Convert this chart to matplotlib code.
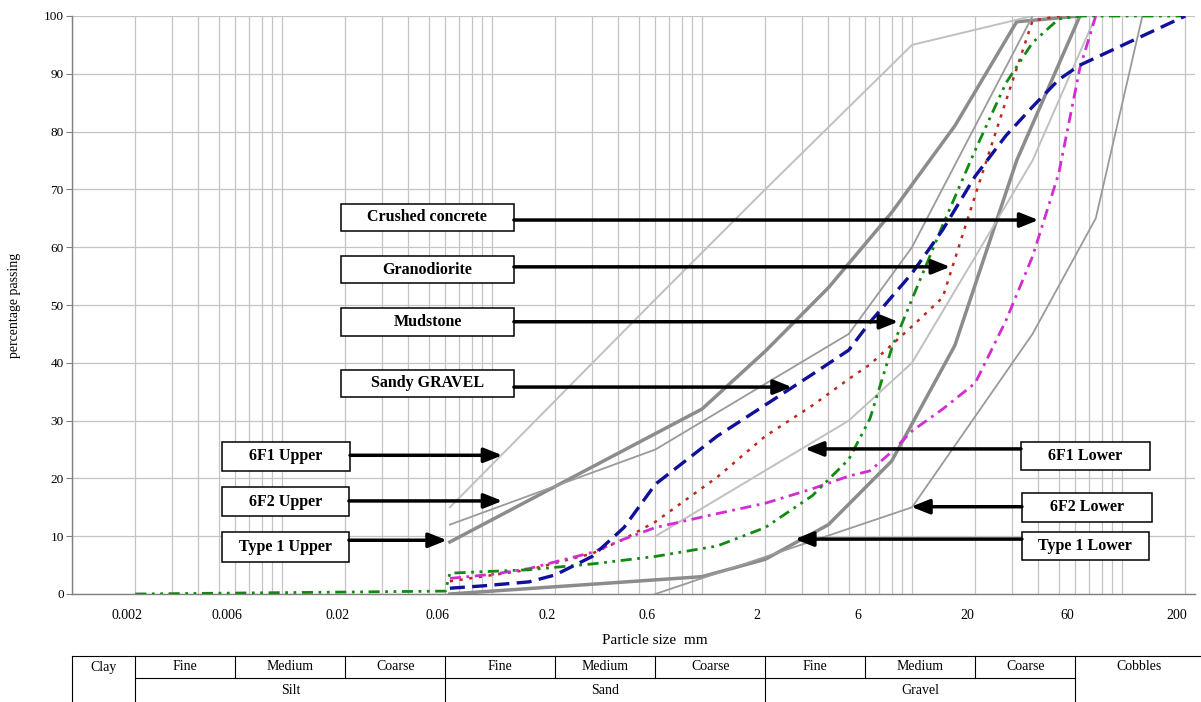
import matplotlib
matplotlib.use("Agg")
import matplotlib.pyplot as plt
from matplotlib.patches import Rectangle
from matplotlib.lines import Line2D
from matplotlib.ticker import FixedLocator, LogLocator, NullFormatter
from matplotlib.transforms import blended_transform_factory, ScaledTranslation

plt.rcParams['font.family'] = ['Liberation Serif', 'DejaVu Serif']

# ---- grading envelopes (sieve size in mm, percentage passing) ----
type1_upper_x = [0.063, 1, 2, 4, 8, 16, 31.5, 63]
type1_upper_y = [9, 32, 42, 53, 66, 81, 99, 100]
type1_lower_x = [0.063, 1, 2, 4, 8, 16, 31.5, 63]
type1_lower_y = [0, 3, 6, 12, 23, 43, 75, 100]

f6f1_upper_x = [0.063, 0.6, 2, 10, 37.5]
f6f1_upper_y = [15, 51, 70, 95, 100]
f6f1_lower_x = [0.6, 5, 10, 37.5, 75]
f6f1_lower_y = [10, 30, 40, 75, 100]

f6f2_upper_x = [0.063, 0.6, 5, 10, 37.5]
f6f2_upper_y = [12, 25, 45, 60, 100]
f6f2_lower_x = [0.6, 10, 37.5, 75, 125]
f6f2_lower_y = [0, 15, 45, 65, 100]

# ---- tested materials ----
sandy_gravel_x = [0.063, 0.09, 0.15, 0.2, 0.3, 0.425, 0.6, 1.18, 2, 3.35, 5,
                  6.3, 10, 14, 20, 28, 37.5, 50, 63, 200]
sandy_gravel_y = [1, 1.4, 2.1, 3.3, 6.5, 11.5, 19, 27.3, 32.7, 38, 42.2,
                  47, 55.5, 63, 72.3, 79.3, 84.3, 89, 91.5, 100]

granodiorite_x = [0.063, 0.15, 0.3, 0.425, 0.6, 1.18, 2, 3.35, 5, 6.3, 10,
                  14, 20, 28, 37.5, 50, 63]
granodiorite_y = [2.2, 4.2, 7, 9.5, 12.5, 20.2, 27.3, 32.6, 37.2, 39.7, 46.3,
                  51.3, 69, 85.3, 99.2, 100, 100]

crushed_concrete_x = [0.063, 0.1, 0.15, 0.212, 0.3, 0.425, 0.6, 1.18, 2, 3.35,
                      5, 6.3, 8, 10, 14, 20, 28, 37.5, 50, 63, 75]
crushed_concrete_y = [2.7, 3.4, 4.4, 5.8, 7.2, 9.5, 11.5, 13.9, 15.7, 18.2,
                      20.4, 21.3, 24.6, 28.2, 32, 36.5, 47.3, 58.4, 72.8, 91, 100]

mudstone_x = [0.002, 0.06, 0.063, 0.15, 0.3, 0.6, 1.18, 2, 3.35, 5, 6.3, 8,
              10, 14, 20, 28, 37.5, 50, 63, 200]
mudstone_y = [0, 0.5, 3.6, 4.2, 5.2, 6.5, 8.3, 11.5, 17, 23.3, 30.3, 42.5,
              51, 63.8, 76.8, 88.4, 95.4, 99.5, 100, 100]

# ---- axis ticks ----
x_ticks = [0.002, 0.006, 0.02, 0.06, 0.2, 0.6, 2, 6, 20, 60, 200]
x_tick_labels = ["0.002", "0.006", "0.02", "0.06", "0.2", "0.6", "2", "6",
                 "20", "60", "200"]
y_ticks = list(range(0, 101, 10))

# ---- callouts: label, arrow tip (mm, %) ----
callout_labels = ["Crushed concrete", "Granodiorite", "Mudstone", "Sandy GRAVEL",
                  "6F1 Upper", "6F2 Upper", "Type 1 Upper",
                  "6F1 Lower", "6F2 Lower", "Type 1 Lower"]
callout_tip_x = [40, 15.2, 8.6, 2.68, 0.112, 0.112, 0.061, 3.09, 9.9, 2.77]
callout_tip_y = [64.7, 56.6, 47.1, 35.8, 24.0, 16.1, 9.3, 25.1, 15.1, 9.5]

# ---- soil classification bands ----
band_edges = [0.001, 0.002, 0.006, 0.02, 0.06, 0.2, 0.6, 2, 6, 20, 60]
sub_names = ["Fine", "Medium", "Coarse"] * 3
main_names = ["Silt", "Sand", "Gravel"]
main_edges = [0.002, 0.06, 2, 60]

W, H = 1201, 702
fig = plt.figure(figsize=(W / 100, H / 100), dpi=100)
ax = fig.add_axes([72 / W, (H - 594) / H, 1123 / W, 578 / H])
ax.set_xscale('log')
ax.set_xlim(0.001, 222.6)
ax.set_ylim(0, 100)

ax.xaxis.set_major_locator(FixedLocator(x_ticks))
ax.set_xticklabels(x_tick_labels)
ax.xaxis.set_minor_locator(LogLocator(base=10, subs=[1, 2, 3, 4, 5, 6, 7, 8, 9], numticks=50))
ax.xaxis.set_minor_formatter(NullFormatter())
ax.set_yticks(y_ticks)

grid_c = '#c4c4c4'
ax.grid(True, which='both', axis='x', color=grid_c, lw=0.9)
ax.grid(True, which='major', axis='y', color=grid_c, lw=0.9)
ax.set_axisbelow(True)

ax.tick_params(axis='x', which='both', length=0, labelsize=10, pad=11)
ax.tick_params(axis='y', length=4, color='#808080', labelsize=9.5, pad=2)
for lbl in ax.get_xticklabels():
    lbl.set_transform(lbl.get_transform() + ScaledTranslation(-0.08, 0, fig.dpi_scale_trans))

for side in ('top', 'right'):
    ax.spines[side].set_visible(False)
for side in ('left', 'bottom'):
    ax.spines[side].set_color('#808080')
    ax.spines[side].set_linewidth(1.0)

# envelopes
ax.plot(type1_upper_x, type1_upper_y, color='#8c8c8c', lw=2.5, zorder=2)
ax.plot(type1_lower_x, type1_lower_y, color='#8c8c8c', lw=2.5, zorder=2)
ax.plot(f6f1_upper_x, f6f1_upper_y, color='#c0c0c0', lw=1.4, zorder=2)
ax.plot(f6f1_lower_x, f6f1_lower_y, color='#c0c0c0', lw=1.4, zorder=2)
ax.plot(f6f2_upper_x, f6f2_upper_y, color='#9a9a9a', lw=1.3, zorder=2)
ax.plot(f6f2_lower_x, f6f2_lower_y, color='#9a9a9a', lw=1.3, zorder=2)

# materials
ax.plot(granodiorite_x, granodiorite_y, color='#c0281e', lw=1.8,
        ls=(0, (1.3, 2.6)), zorder=3)
ax.plot(crushed_concrete_x, crushed_concrete_y, color='#d22dd2', lw=2.0,
        ls=(0, (4, 2, 1, 2)), zorder=3)
ax.plot(mudstone_x, mudstone_y, color='#128a12', lw=2.0,
        ls=(0, (4, 2, 1, 2, 1, 2)), zorder=3)
ax.plot(sandy_gravel_x, sandy_gravel_y, color='#10109a', lw=2.4,
        ls=(0, (4.5, 2.2)), zorder=3)

# callout boxes (axes fractions: left, centre y, width, height)
box_layout = [
    (0.2395, 0.6514, 0.154, 0.047),
    (0.2395, 0.5614, 0.154, 0.047),
    (0.2395, 0.4706, 0.154, 0.048),
    (0.2395, 0.3642, 0.154, 0.047),
    (0.1336, 0.2379, 0.114, 0.050),
    (0.1336, 0.1600, 0.113, 0.050),
    (0.1336, 0.0813, 0.113, 0.052),
    (0.8450, 0.2388, 0.115, 0.048),
    (0.8459, 0.1497, 0.116, 0.050),
    (0.8459, 0.0830, 0.113, 0.048),
]
arrow_tf = blended_transform_factory(ax.transAxes, ax.transData)
for label, tx, ty, (bx, by, bw, bh) in zip(callout_labels, callout_tip_x,
                                           callout_tip_y, box_layout):
    ax.add_patch(Rectangle((bx, by - bh / 2), bw, bh, transform=ax.transAxes,
                           facecolor='white', edgecolor='black', lw=1.1,
                           zorder=6, clip_on=False))
    ax.text(bx + bw / 2, by, label, transform=ax.transAxes, ha='center',
            va='center', fontsize=11.5, fontweight='bold', zorder=7)
    start_x = bx + bw if bx < 0.5 else bx
    ax.annotate('', xy=(tx, ty), xycoords='data', xytext=(start_x, ty),
                textcoords=arrow_tf,
                arrowprops=dict(arrowstyle='-|>,head_length=0.55,head_width=0.22',
                                mutation_scale=20, color='black', lw=2.5,
                                shrinkA=0, shrinkB=0),
                zorder=8)

# axis titles
fig.text(655 / W, (H - 641) / H, "Particle size  mm", ha='center', va='center',
         fontsize=11)
fig.text(15 / W, 1 - 305 / H, "percentage passing", ha='center', va='center',
         rotation=90, fontsize=10)

# classification table below the axis
bt = blended_transform_factory(ax.transData, fig.transFigure)
y_top, y_mid, y_bot = (H - 656) / H, (H - 678) / H, 0.0
right_x = 240
lc = 'black'
lw_t = 0.8
fig.add_artist(Line2D([band_edges[0], right_x], [y_top, y_top], transform=bt, color=lc, lw=lw_t))
fig.add_artist(Line2D([main_edges[0], main_edges[-1]], [y_mid, y_mid], transform=bt, color=lc, lw=lw_t))
for e in band_edges:
    y0 = y_bot if (e == band_edges[0] or e in main_edges) else y_mid
    fig.add_artist(Line2D([e, e], [y0, y_top], transform=bt, color=lc, lw=lw_t))

row1_y = (H - 667) / H
row2_y = (H - 690) / H
fig.text((band_edges[0] * band_edges[1]) ** 0.5, row1_y, "Clay", transform=bt,
         ha='center', va='center', fontsize=10)
for i, name in enumerate(sub_names):
    lo, hi = band_edges[i + 1], band_edges[i + 2]
    fig.text((lo * hi) ** 0.5, row1_y, name, transform=bt, ha='center',
             va='center', fontsize=10)
for i, name in enumerate(main_names):
    lo, hi = main_edges[i], main_edges[i + 1]
    fig.text((lo * hi) ** 0.5, row2_y, name, transform=bt, ha='center',
             va='center', fontsize=10)
fig.text((band_edges[-1] * right_x) ** 0.5, row1_y, "Cobbles", transform=bt,
         ha='center', va='center', fontsize=10)

fig.savefig("out.png", dpi=100)
